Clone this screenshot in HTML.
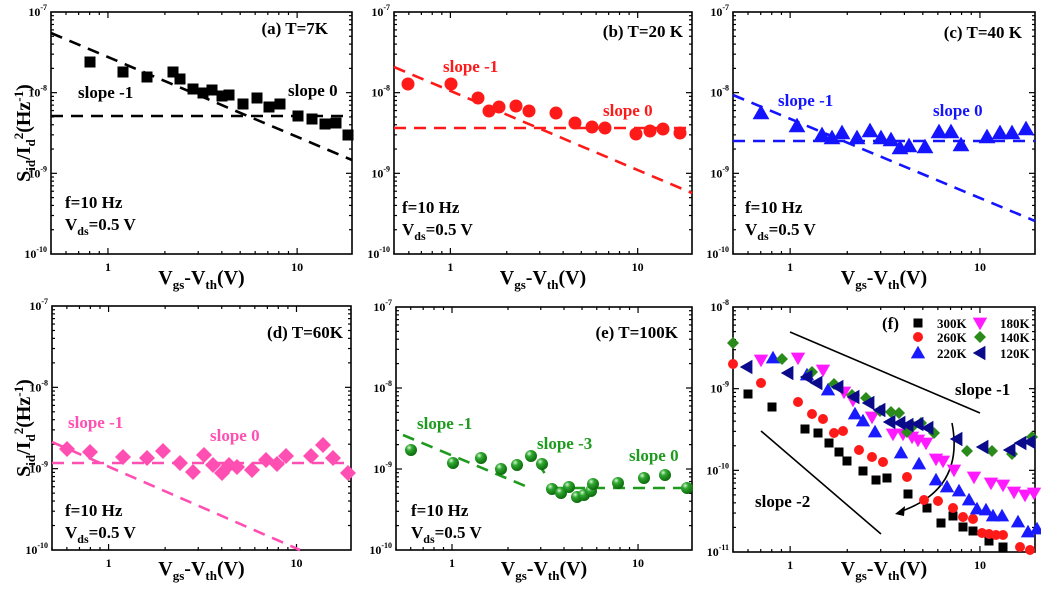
<!DOCTYPE html>
<html><head><meta charset="utf-8">
<style>
html,body{margin:0;padding:0;background:#fff;}
svg{display:block;font-family:"Liberation Serif",serif;font-weight:bold;}
</style></head>
<body>
<svg id="s" width="1041" height="595" viewBox="0 0 1041 595" xmlns="http://www.w3.org/2000/svg"></svg>
<script>
var o='';
var LX0=Math.log10(0.5),LX1=Math.log10(19.5);
function axes(L,R,T,B,topExp,bottomY){
  o+='<rect x="'+L+'" y="'+T+'" width="'+(R-L)+'" height="'+(B-T)+'" fill="none" stroke="#000" stroke-width="1.6"/>';
  var dec=(B-T)/3;
  for(var d=0;d<3;d++){
    for(var m=1;m<=9;m++){
      var y=B-dec*d-dec*Math.log10(m);
      var len=(m==1)?6:3;
      if(m==1&&d==0)continue;
      o+='<line x1="'+L+'" y1="'+y+'" x2="'+(L+len)+'" y2="'+y+'" stroke="#000" stroke-width="1.2"/>';
      o+='<line x1="'+R+'" y1="'+y+'" x2="'+(R-len)+'" y2="'+y+'" stroke="#000" stroke-width="1.2"/>';
    }
  }
  for(var k=0;k<=3;k++){
    var y=B-dec*k, e=topExp-3+k;
    o+='<text x="'+(L-4)+'" y="'+(y+4)+'" font-size="12" text-anchor="end">10<tspan dy="-6" font-size="8">'+e+'</tspan></text>';
  }
  var xs=[0.5,0.6,0.7,0.8,0.9,1,2,3,4,5,6,7,8,9,10];
  xs.forEach(function(v){
    var x=L+(Math.log10(v)-LX0)/(LX1-LX0)*(R-L);
    var len=(v==1||v==10)?6:3;
    o+='<line x1="'+x+'" y1="'+B+'" x2="'+x+'" y2="'+(B-len)+'" stroke="#000" stroke-width="1.2"/>';
    o+='<line x1="'+x+'" y1="'+T+'" x2="'+x+'" y2="'+(T+len)+'" stroke="#000" stroke-width="1.2"/>';
    if(v==1||v==10)o+='<text x="'+x+'" y="'+(B+17)+'" font-size="12" text-anchor="middle">'+v+'</text>';
  });
  var cx=(L+R)/2;
  o+='<text x="'+cx+'" y="'+bottomY+'" font-size="20" text-anchor="middle">V<tspan font-size="13" dy="5">gs</tspan><tspan dy="-5">-V</tspan><tspan font-size="13" dy="5">th</tspan><tspan dy="-5">(V)</tspan></text>';
}
function t(x,y,s,c,anchor,fs){o+='<text x="'+x+'" y="'+y+'" font-size="'+(fs||17)+'" fill="'+(c||'#000')+'"'+(anchor?' text-anchor="'+anchor+'"':'')+'>'+s+'</text>';}
function dl(x1,y1,x2,y2,c){o+='<line x1="'+x1+'" y1="'+y1+'" x2="'+x2+'" y2="'+y2+'" stroke="'+c+'" stroke-width="2.6" stroke-dasharray="12,8"/>';}
function fv(x,yb){t(x,yb,'f=10 Hz');o+='<text x="'+x+'" y="'+(yb+22)+'" font-size="17">V<tspan font-size="12" dy="5">ds</tspan><tspan dy="-5">=0.5 V</tspan></text>';}
function sq(p,c,s){p.forEach(function(q){o+='<rect x="'+(q[0]-s/2)+'" y="'+(q[1]-s/2)+'" width="'+s+'" height="'+s+'" fill="'+c+'"/>';});}
function ci(p,c,r){p.forEach(function(q){o+='<circle cx="'+q[0]+'" cy="'+q[1]+'" r="'+r+'" fill="'+c+'"/>';});}
function sph(p){p.forEach(function(q){o+='<circle cx="'+q[0]+'" cy="'+q[1]+'" r="6" fill="url(#g)"/>';});}
function tu(p,c,s){p.forEach(function(q){var x=q[0],y=q[1];o+='<polygon points="'+x+','+(y-s*0.6)+' '+(x+s*0.6)+','+(y+s*0.45)+' '+(x-s*0.6)+','+(y+s*0.45)+'" fill="'+c+'"/>';});}
function td(p,c,s){p.forEach(function(q){var x=q[0],y=q[1];o+='<polygon points="'+x+','+(y+s*0.6)+' '+(x+s*0.6)+','+(y-s*0.45)+' '+(x-s*0.6)+','+(y-s*0.45)+'" fill="'+c+'"/>';});}
function tl(p,c,s){p.forEach(function(q){var x=q[0],y=q[1];o+='<polygon points="'+(x-s*0.6)+','+y+' '+(x+s*0.45)+','+(y-s*0.6)+' '+(x+s*0.45)+','+(y+s*0.6)+'" fill="'+c+'"/>';});}
function di(p,c,s){p.forEach(function(q){var x=q[0],y=q[1];o+='<polygon points="'+x+','+(y-s)+' '+(x+s)+','+y+' '+x+','+(y+s)+' '+(x-s)+','+y+'" fill="'+c+'"/>';});}

o+='<defs><radialGradient id="g" cx="0.35" cy="0.3" r="0.7"><stop offset="0" stop-color="#d8f5d8"/><stop offset="0.35" stop-color="#2fa82f"/><stop offset="1" stop-color="#0d6a0d"/></radialGradient></defs>';

// (a)
axes(51,352,12,254,-7,284);
dl(51,33,352,160,'#000');dl(51,116,352,116,'#000');
sq([[90,62],[123,72],[147,77],[173,72],[180,79],[193,89],[203,93],[212,90],[222,96],[229,95],[243,104],[257,98],[269,107],[280,104],[298,116],[312,119],[325,124],[336,123],[348,135]],'#000',11);
t(328,34,'(a) T=7K','#000','end');t(78,98,'slope -1');t(288,96,'slope 0');fv(65,208);
// (b)
var red='#ff1a1a';
axes(394,692,12,254,-7,284);
dl(394,67,692,193,red);dl(394,128,692,128,red);
ci([[408,84],[451,84],[478,98],[489,111],[499,107],[516,106],[529,111],[556,113],[575,123],[592,127],[605,128],[636,134],[650,131],[663,129],[680,133]],red,6.5);
t(683,37,'(b) T=20 K','#000','end');t(443,72,'slope -1',red);t(603,116,'slope 0',red);fv(402,213);
// (c)
var blue='#1414ff';
axes(733,1035,12,254,-7,284);
dl(733,95,1035,221,blue);dl(733,141,1035,141,blue);
tu([[761,113],[797,126],[822,135],[832,138],[842,133],[857,138],[870,131],[881,138],[891,140],[900,148],[909,146],[925,147],[939,132],[951,132],[961,145],[987,137],[1000,133],[1012,133],[1026,129]],blue,14);
t(1022,38,'(c) T=40 K','#000','end');t(778,106,'slope -1',blue);t(933,116,'slope 0',blue);fv(745,213);
// (d)
var pink='#ff4fb2';
axes(52,351,306,550,-7,575);
dl(52,463,351,463,pink);dl(52,442,300,550,pink);
di([[67,449],[90,452],[123,457],[147,458],[163,451],[180,463],[193,472],[204,455],[213,465],[222,473],[229,465],[237,467],[252,470],[266,460],[277,464],[286,456],[311,456],[323,445],[333,458],[348,473]],pink,8);
t(343,338,'(d) T=60K','#000','end');t(68,428,'slope -1',pink);t(210,441,'slope 0',pink);fv(65,516);
// (e)
var green='#1e9a1e';
axes(396,692,307,550,-7,575);
dl(403,435,530,488,green);dl(538,463,547,477,green);dl(553,488,692,488,green);
sph([[411,450],[453,463],[481,458],[501,469],[517,465],[531,456],[542,464],[552,489],[561,493],[569,487],[577,497],[584,495],[591,491],[593,484],[618,483],[644,478],[665,475],[687,488]]);
t(678,338,'(e) T=100K','#000','end');t(417,429,'slope -1',green);t(537,449,'slope -3',green);t(629,461,'slope 0',green);fv(411,516);
// (f)
axes(733,1035,307,552,-8,575);
o+='<line x1="790" y1="332" x2="980" y2="413" stroke="#000" stroke-width="1.6"/>';
o+='<line x1="761" y1="431" x2="881" y2="534" stroke="#000" stroke-width="1.6"/>';
o+='<path d="M952,423 Q965,490 899,512" fill="none" stroke="#000" stroke-width="1.6"/>';
o+='<polygon points="895,514 905,506 904,516" fill="#000"/>';
t(955,395,'slope -1');t(755,507,'slope -2');t(882,329,'(f)','#000',null,17);
var mag='#ff1aff',nav='#0a0a8a',dg='#2a8a1a',bl='#1a1aff';
sq([[748,394],[772,407],[805,429],[818,433],[829,443],[839,452],[847,461],[863,471],[876,480],[887,478],[908,494],[927,508],[941,523],[953,516],[963,527],[973,531],[989,541],[1003,547]],'#000',9);
ci([[733,364],[761,383],[798,402],[812,414],[823,419],[834,433],[843,431],[859,450],[872,457],[883,462],[907,477],[924,500],[938,501],[953,508],[963,517],[973,519],[982,533],[989,534],[996,535],[1003,535],[1020,547],[1030,550]],'#ff1a1a',5);
tu([[773,358],[807,375],[828,390],[855,414],[863,421],[875,432],[901,453],[919,464],[936,480],[947,487],[959,491],[969,500],[977,509],[986,510],[993,516],[1002,516],[1018,522],[1028,532],[1037,529]],bl,12);
td([[761,360],[798,358],[823,370],[844,392],[853,400],[872,417],[893,434],[903,434],[912,437],[918,440],[926,443],[936,459],[943,461],[954,470],[974,477],[991,483],[1003,485],[1014,492],[1025,495],[1034,493]],mag,12);
di([[733,343],[782,359],[812,372],[834,384],[852,395],[866,398],[880,411],[891,412],[899,413],[907,432],[913,426],[921,423],[934,433],[967,451],[992,451],[1012,454],[1032,437]],dg,6);
tl([[747,367],[788,373],[807,377],[817,383],[838,387],[854,397],[869,403],[880,410],[890,422],[900,423],[908,425],[918,424],[928,428],[957,439],[983,447],[1010,450],[1021,443],[1030,442]],nav,12);
// legend
sq([[918,323]],'#000',9);ci([[918,337]],'#ff1a1a',5);tu([[918,353]],bl,12);
td([[980,323]],mag,12);di([[980,337]],dg,6);tl([[980,353]],nav,12);
t(937,328,'300K','#000',null,13);t(937,342,'260K','#000',null,13);t(937,358,'220K','#000',null,13);
t(1000,328,'180K','#000',null,13);t(1000,342,'140K','#000',null,13);t(1000,358,'120K','#000',null,13);
// y labels
function yl(cy){o+='<text transform="translate(30,'+cy+') rotate(-90)" font-size="20" text-anchor="middle">S<tspan font-size="13" dy="5">id</tspan><tspan dy="-5">/I</tspan><tspan font-size="13" dy="5">d</tspan><tspan font-size="13" dy="-12">2</tspan><tspan dy="7">(Hz</tspan><tspan font-size="13" dy="-7">-1</tspan><tspan dy="7">)</tspan></text>';}
yl(133);yl(428);
document.getElementById('s').innerHTML=o;
</script>
</body></html>
